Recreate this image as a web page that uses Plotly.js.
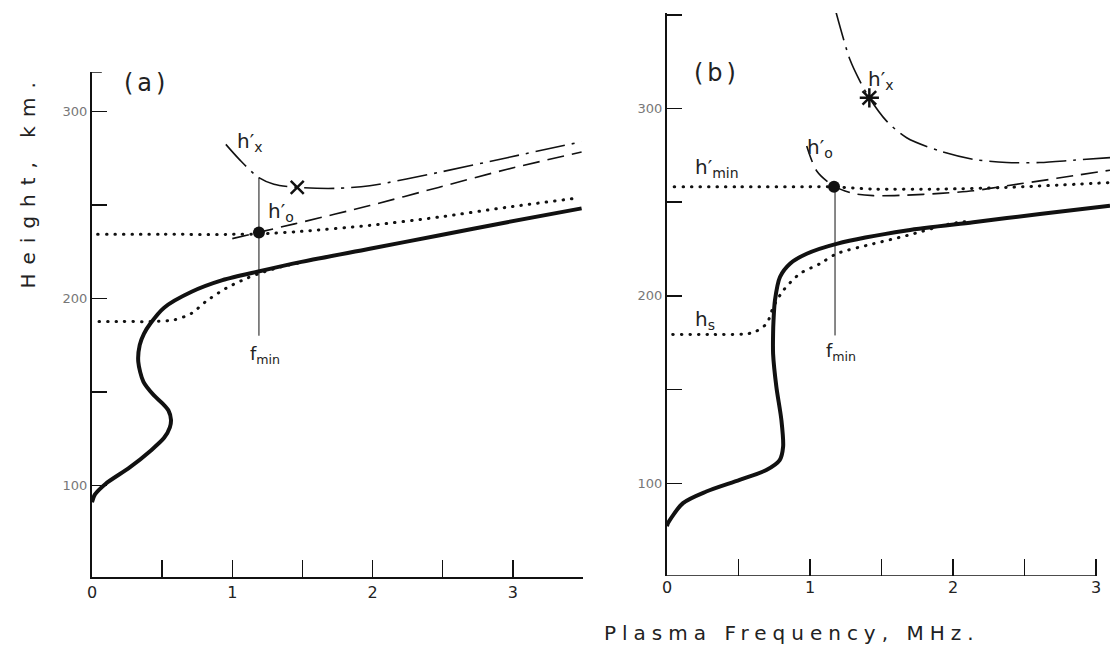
<!DOCTYPE html>
<html><head><meta charset="utf-8">
<script src="https://cdn.plot.ly/plotly-3.0.1.min.js"></script>
<style>html,body{margin:0;padding:0;background:#fff;}#chart{width:1110px;height:647px;}</style>
</head><body><div id="chart"></div>
<script>
// ---------- Panel (a) ----------
const aTrueF = [0, 0.02, 0.098, 0.269, 0.416, 0.514, 0.555, 0.563, 0.545, 0.50, 0.44, 0.367, 0.33, 0.34, 0.37, 0.416, 0.514, 0.71, 0.93, 1.194, 1.493, 1.98, 2.47, 2.96, 3.49];
const aTrueH = [91, 95, 100.9, 109.6, 118.4, 125.4, 131, 135, 140, 144, 148.2, 155.3, 166, 175, 181, 186.5, 195, 203.5, 209.7, 214.5, 219.5, 226.5, 233.6, 240.7, 248.1];
const aSlabF = [0.05, 0.2, 0.416, 0.587, 0.71, 0.81, 0.954, 1.10, 1.194, 1.346, 1.5];
const aSlabH = [187.6, 187.6, 187.6, 188.5, 192, 198.2, 205.3, 210.6, 213.3, 216.8, 219.3];
const aMinF = [0.04, 0.5, 1.0, 1.19, 1.49, 1.98, 2.47, 2.96, 3.45];
const aMinH = [234.2, 234.2, 234.2, 234.4, 235.8, 239, 243.4, 248.7, 253.5];
const aOrdF = [1.0, 1.194, 1.444, 1.98, 2.47, 2.96, 3.49];
const aOrdH = [231.9, 235.4, 239.8, 249.6, 259.3, 269, 278.2];
const aExtF = [0.954, 1.05, 1.187, 1.297, 1.463, 1.74, 1.98, 2.47, 2.96, 3.49];
const aExtH = [282.3, 274.3, 264.6, 261, 259.3, 258.8, 260.2, 267.3, 275.2, 283.7];
const aFmin = [1.19, 1.19];
const aFminH = [180, 264.6];
const aDotF = [1.19], aDotH = [235.2];
const aCrossF = [1.463], aCrossH = [259.3];

// ---------- Panel (b) ----------
const bTrueF = [0, 0.007, 0.112, 0.275, 0.508, 0.695, 0.788, 0.812, 0.80, 0.765, 0.742, 0.742, 0.745, 0.755, 0.79, 0.86, 0.977, 1.186, 1.676, 2.142, 2.608, 3.098];
const bTrueH = [77, 78.7, 89.4, 95.6, 101.8, 107.1, 112.4, 119.5, 133.7, 151.4, 169.1, 180, 187, 197.7, 210.1, 217.2, 222.5, 227.8, 234.9, 239.3, 243.7, 248.1];
const bSlabF = [0.04, 0.3, 0.6, 0.697, 0.744, 0.814, 0.93, 1.07, 1.186, 1.443, 1.676, 1.979, 2.1];
const bSlabH = [179.4, 179.4, 180.4, 185.3, 194.2, 203, 211.9, 217.2, 222.5, 227.8, 232.2, 238.4, 239.8];
const bMinF = [0.05, 0.5, 1.0, 1.163, 1.443, 1.909, 2.375, 3.098];
const bMinH = [258.2, 258.2, 258.2, 258.2, 257, 257, 257.9, 260.5];
const bOrdF = [0.977, 1.047, 1.163, 1.303, 1.443, 1.676, 1.909, 2.142, 2.375, 2.608, 2.84, 3.098];
const bOrdH = [280, 266.7, 258.8, 254.7, 253.5, 253.8, 254.7, 256.1, 258.8, 261.4, 264.1, 267.1];
const bExtF = [1.18, 1.28, 1.35, 1.415, 1.536, 1.676, 1.909, 2.142, 2.375, 2.608, 2.84, 3.098];
const bExtH = [352, 326, 314.5, 305.7, 293.3, 284.4, 277.3, 272.9, 271.2, 271.2, 272.4, 273.8];
const bFmin = [1.175, 1.175];
const bFminH = [178.9, 258.2];
const bDotF = [1.168], bDotH = [258.2];
const bStarF = [1.415], bStarH = [305.7];

// ---------- ticks ----------
const freqMajorStep = 1, freqMinorStep = 0.5;
const hMajorStep = 100, hMinorStep = 50;

const INK = '#111';
function ln(x, y, xa, ya, w, dash) {
  return {x: x, y: y, xaxis: xa, yaxis: ya, type: 'scatter', mode: 'lines', hoverinfo: 'skip',
    line: {color: INK, width: w, dash: dash || 'solid', shape: 'spline', smoothing: 0.8}};
}
function mk(x, y, xa, ya, sym, size, lw) {
  return {x: x, y: y, xaxis: xa, yaxis: ya, type: 'scatter', mode: 'markers', hoverinfo: 'skip', cliponaxis: false,
    marker: {symbol: sym, size: size, color: INK, line: {color: INK, width: lw}}};
}
const DOT = '3px,5.5px', DASH = '17px,8px', DASHDOT = '30px,7px,3px,7px';
const traces = [
  ln(aTrueF, aTrueH, 'x', 'y', 4),
  ln(aSlabF, aSlabH, 'x', 'y', 2.6, DOT),
  ln(aMinF, aMinH, 'x', 'y', 2.6, DOT),
  ln(aOrdF, aOrdH, 'x', 'y', 1.6, DASH),
  ln(aExtF, aExtH, 'x', 'y', 1.6, DASHDOT),
  {x: aFmin, y: aFminH, xaxis: 'x', yaxis: 'y', type: 'scatter', mode: 'lines', hoverinfo: 'skip', line: {color: INK, width: 1}},
  mk(aDotF, aDotH, 'x', 'y', 'circle', 12, 0),
  mk(aCrossF, aCrossH, 'x', 'y', 'x-thin-open', 13, 2.5),
  ln(bTrueF, bTrueH, 'x2', 'y2', 4),
  ln(bSlabF, bSlabH, 'x2', 'y2', 2.6, DOT),
  ln(bMinF, bMinH, 'x2', 'y2', 2.6, DOT),
  ln(bOrdF, bOrdH, 'x2', 'y2', 1.6, DASH),
  ln(bExtF, bExtH, 'x2', 'y2', 1.6, DASHDOT),
  {x: bFmin, y: bFminH, xaxis: 'x2', yaxis: 'y2', type: 'scatter', mode: 'lines', hoverinfo: 'skip', line: {color: INK, width: 1}},
  mk(bDotF, bDotH, 'x2', 'y2', 'circle', 12, 0),
  mk(bStarF, bStarH, 'x2', 'y2', 'asterisk-open', 16, 2.5)
];

const W = 1110, H = 647;
const FONT = 'DejaVu Sans';
function xax(dom, rng, anchor, showline) {
  return {domain: dom, range: rng, anchor: anchor, showline: showline, linecolor: INK, linewidth: 1.5,
    showgrid: false, zeroline: false, ticks: 'inside', ticklen: 17, tickwidth: 1.5, tickcolor: INK,
    tickmode: 'linear', tick0: 0, dtick: freqMajorStep, fixedrange: true,
    minor: {tickmode: 'linear', tick0: 0, dtick: freqMinorStep, ticks: 'inside', ticklen: 17, tickwidth: 1.5, tickcolor: INK, showgrid: false},
    tickfont: {family: FONT, size: 16, color: '#222'}};
}
function yax(dom, rng, anchor) {
  return {domain: dom, range: rng, anchor: anchor, showline: true, linecolor: INK, linewidth: 2,
    showgrid: false, zeroline: false, ticks: 'inside', ticklen: 15, tickwidth: 1.5, tickcolor: INK,
    tickmode: 'linear', tick0: 0, dtick: hMajorStep, fixedrange: true,
    minor: {tickmode: 'linear', tick0: 0, dtick: hMinorStep, ticks: 'inside', ticklen: 15, tickwidth: 1.5, tickcolor: INK, showgrid: false},
    tickfont: {family: FONT, size: 13, color: '#777'}};
}
function lab(text, x, y, xr, yr, size, extra) {
  return Object.assign({text: text, x: x, y: y, xref: xr, yref: yr, showarrow: false,
    font: {family: FONT, size: size, color: '#222'}, xanchor: 'center', yanchor: 'middle'}, extra || {});
}
const layout = {
  width: W, height: H, margin: {l: 0, r: 0, t: 0, b: 0},
  paper_bgcolor: '#fff', plot_bgcolor: 'rgba(0,0,0,0)', showlegend: false,
  xaxis: xax([92 / W, 583 / W], [0, 3.5], 'y', true),
  yaxis: yax([(H - 577) / H, (H - 72) / H], [51, 321], 'x'),
  xaxis2: xax([667 / W, 1], [0, 3.098], 'y2', false),
  yaxis2: yax([(H - 576) / H, (H - 13) / H], [50.5, 351], 'x2'),
  shapes: [
    {type: 'line', xref: 'x2', yref: 'y2', x0: 0, x1: 3, y0: 50.5, y1: 50.5, line: {color: INK, width: 1.5}},
    {type: 'line', xref: 'x domain', yref: 'y', x0: 0, x1: 0.02, y0: 321, y1: 321, line: {color: INK, width: 1.5}}
  ],
  annotations: [
    lab('(a)', 0.39, 315, 'x', 'y', 24),
    lab('(b)', 0.347, 319, 'x2', 'y2', 24),
    lab('h′<sub>x</sub>', 1.126, 283.5, 'x', 'y', 20),
    lab('h′<sub>o</sub>', 1.35, 246, 'x', 'y', 20),
    lab('f<sub>min</sub>', 1.235, 169.5, 'x', 'y', 18),
    lab('h′<sub>x</sub>', 1.50, 315.4, 'x2', 'y2', 20),
    lab('h′<sub>o</sub>', 1.07, 279, 'x2', 'y2', 20),
    lab('h′<sub>min</sub>', 0.347, 268.5, 'x2', 'y2', 20),
    lab('h<sub>s</sub>', 0.266, 187, 'x2', 'y2', 20),
    lab('f<sub>min</sub>', 1.22, 170, 'x2', 'y2', 18),
    lab('Height, km.', 28 / W, (H - 181) / H, 'paper', 'paper', 20, {textangle: -90}),
    lab('Plasma Frequency, MHz.', 792 / W, (H - 633) / H, 'paper', 'paper', 20)
  ]
};
Plotly.newPlot('chart', traces, layout, {staticPlot: true, displayModeBar: false}).then(function () {
  document.querySelectorAll('.annotation-text').forEach(function (t) {
    const s = t.textContent;
    if (s.indexOf('Plasma') === 0) t.style.letterSpacing = '6px';
    else if (s.indexOf('Height') === 0) t.style.letterSpacing = '9px';
    else if (s === '(a)' || s === '(b)') t.style.letterSpacing = '4px';
  });
  // round dots for the dotted curves
  document.querySelectorAll('path.js-line').forEach(function (p) {
    const d = p.style.strokeDasharray || '';
    if (d.indexOf('5.5') >= 0) {
      p.style.strokeLinecap = 'round';
      p.style.strokeDasharray = '0.5px,8px';
      p.style.strokeWidth = '3px';
    }
  });
});
</script>
</body></html>
